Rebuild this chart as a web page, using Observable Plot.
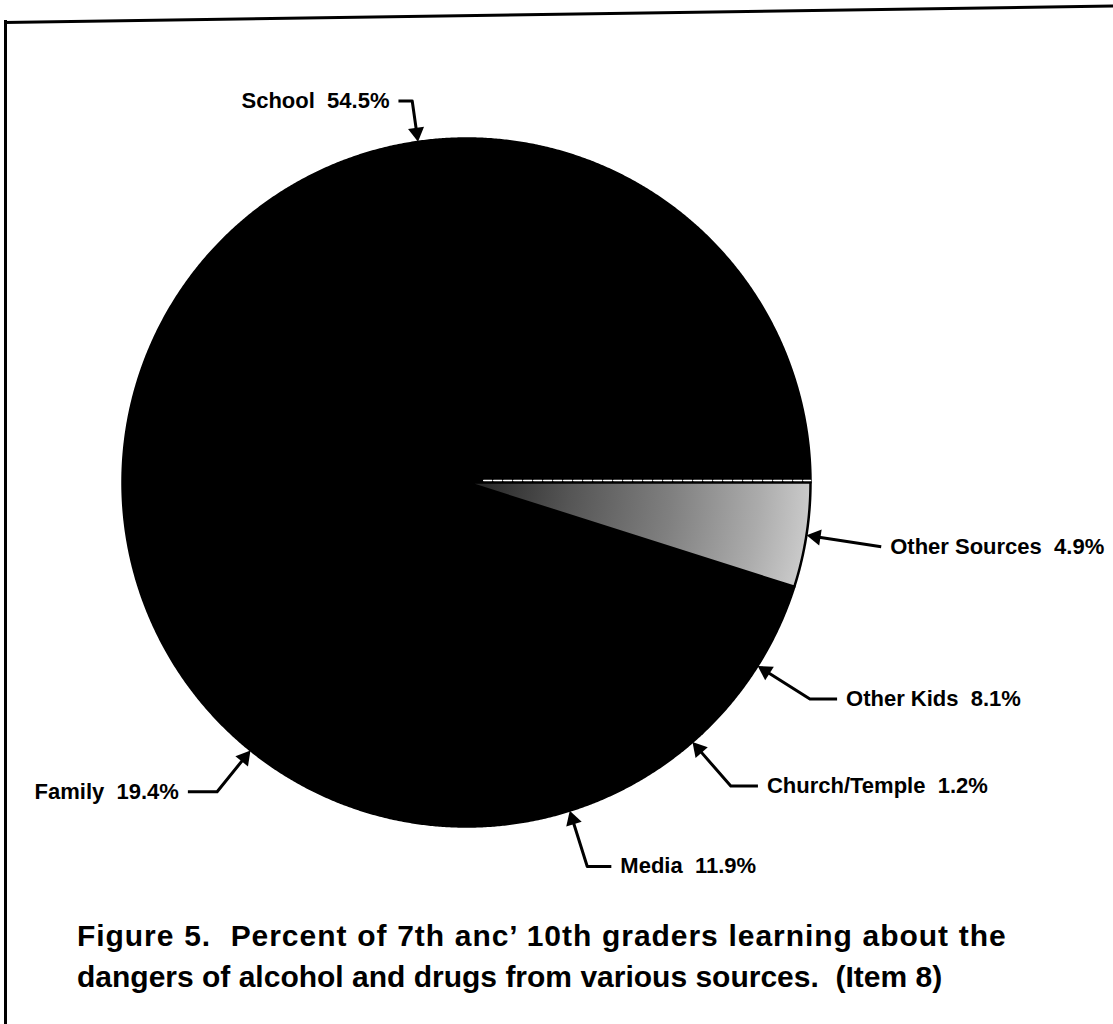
<!DOCTYPE html>
<html>
<head>
<meta charset="utf-8">
<script src="https://cdn.jsdelivr.net/npm/d3@7"></script>
<script src="https://cdn.jsdelivr.net/npm/@observablehq/plot@0.6"></script>
<style>
  html, body { margin: 0; padding: 0; background: #fff; }
  #wrap { position: relative; width: 1113px; height: 1024px; overflow: hidden; font-family: "Liberation Sans", Arial, Helvetica, sans-serif; }
  #chart { position: absolute; left: 0; top: 0; }
  .frame-left { position: absolute; left: 4px; top: 20px; width: 3px; height: 1010px; background: #000; }
  .frame-top { position: absolute; left: 4px; top: 21px; width: 1120px; height: 3px; background: #000; transform-origin: 0 50%; transform: rotate(-0.85deg); }
  #caption { position: absolute; left: 77px; top: 915px; font-size: 30px; font-weight: bold; line-height: 41px; color: #000; white-space: nowrap; }
  #caption .l1 { letter-spacing: 0.95px; word-spacing: 0.5px; }
</style>
</head>
<body>
<div id="wrap">
  <div class="frame-left"></div>
  <div class="frame-top"></div>
  <div id="chart"></div>
  <div id="caption"><span class="l1">Figure 5.&nbsp; Percent of 7th anc’ 10th graders learning about the</span><br><span class="l2">dangers of alcohol and drugs from various sources.&nbsp; (Item 8)</span></div>
</div>
<script>
// ---- data (clockwise from 3 o'clock) ----
const sources  = ["Other Sources", "Other Kids", "Church/Temple", "Media", "Family", "School"];
const percents = [4.9, 8.1, 1.2, 11.9, 19.4, 54.5];

// ---- layout (not data) ----
const W = 1113, H = 900;           // svg size
const CX = 466, CY = 482, R = 344; // pie centre / radius in px
const elbowRadius = [1.22, 1.18, 1.17, 1.17, 1.155, 1.12]; // leader elbow, in pie radii
const legLength   = [0, 0.079, 0.079, 0.07, 0.085, 0.04];  // horizontal leg, in pie radii
const shaded = "Other Sources";

const xDomain = [-CX / R, (W - CX) / R];
const yDomain = [(CY - H) / R, CY / R];

const arcs = d3.pie().sort(null)
  .startAngle(Math.PI / 2).endAngle(Math.PI / 2 + 2 * Math.PI)(percents);

const pt = (a, r) => ({u: r * Math.sin(a), v: r * Math.cos(a)});

function slicePoints(arc, i) {
  const pts = [pt(0, 0)];
  const n = Math.max(2, Math.ceil((arc.endAngle - arc.startAngle) / 0.005));
  for (let k = 0; k <= n; k++) pts.push(pt(arc.startAngle + (arc.endAngle - arc.startAngle) * k / n, 1));
  pts.push(pt(0, 0));
  return pts.map(p => ({...p, name: sources[i]}));
}

const blackPts = [], greyPts = [];
arcs.forEach((a, i) => (sources[i] === shaded ? greyPts : blackPts).push(...slicePoints(a, i)));

// top edge of the shaded slice (thin white gap)
const shadedArc = arcs[sources.indexOf(shaded)];
const gapLine = [pt(shadedArc.startAngle, 0.05), pt(shadedArc.startAngle, 1)];

const leaders = [], heads = [], labels = [];
const headBack = 9.5 / R;
arcs.forEach((a, i) => {
  const mid = (a.startAngle + a.endAngle) / 2;
  const tip = pt(mid, 1);
  const elbow = pt(mid, elbowRadius[i]);
  const side = elbow.u >= 0 ? 1 : -1;
  const legEnd = {u: elbow.u + side * legLength[i], v: elbow.v};
  let du = tip.u - elbow.u, dv = tip.v - elbow.v;
  const len = Math.hypot(du, dv); du /= len; dv /= len;
  const head = {u: tip.u - du * headBack, v: tip.v - dv * headBack, rot: Math.atan2(du, dv) * 180 / Math.PI};
  leaders.push({...legEnd, name: sources[i]}, {...elbow, name: sources[i]}, {u: head.u, v: head.v, name: sources[i]});
  heads.push(head);
  labels.push({u: legEnd.u, v: legEnd.v, side, text: `${sources[i]}\u00a0 ${percents[i]}%`});
});

const font = "'Liberation Sans', Arial, Helvetica, sans-serif";

const chart = Plot.plot({
  width: W, height: H,
  margin: 0,
  x: {domain: xDomain, axis: null},
  y: {domain: yDomain, axis: null},
  marks: [
    Plot.line(blackPts, {x: "u", y: "v", z: "name", fill: "black", stroke: "black", strokeWidth: 2.5, curve: "linear"}),
    Plot.line(greyPts, {x: "u", y: "v", z: "name", fill: "url(#stipple)", stroke: "black", strokeWidth: 2.5, curve: "linear"}),
    Plot.line(gapLine, {x: "u", y: "v", stroke: "white", strokeWidth: 1.5, dy: -2, strokeDasharray: "8,2"}),
    Plot.line(leaders, {x: "u", y: "v", z: "name", stroke: "black", strokeWidth: 3, curve: "linear", strokeLinecap: "butt"}),
    Plot.dot(heads, {x: "u", y: "v", symbol: "triangle", r: 6, fill: "black", stroke: "none", rotate: "rot"}),
    Plot.text(labels.filter(d => d.side > 0), {x: "u", y: "v", text: "text", textAnchor: "start", dx: 9, fontSize: 22, fontWeight: "bold", fontFamily: font, fill: "black"}),
    Plot.text(labels.filter(d => d.side < 0), {x: "u", y: "v", text: "text", textAnchor: "end", dx: -9, fontSize: 22, fontWeight: "bold", fontFamily: font, fill: "black"})
  ]
});

// radial stipple-like gradient for the shaded slice
const sx = chart.scale("x"), sy = chart.scale("y");
const cxp = sx.apply(0), cyp = sy.apply(0), rp = sx.apply(1) - sx.apply(0);
const defs = document.createElementNS("http://www.w3.org/2000/svg", "defs");
defs.innerHTML = `<radialGradient id="stipple" gradientUnits="userSpaceOnUse" cx="${cxp}" cy="${cyp}" r="${rp}">
  <stop offset="0.05" stop-color="#2a2a2a"/>
  <stop offset="0.3" stop-color="#555"/>
  <stop offset="0.6" stop-color="#808080"/>
  <stop offset="0.85" stop-color="#ababab"/>
  <stop offset="1" stop-color="#cacaca"/>
</radialGradient>`;
chart.insertBefore(defs, chart.firstChild);

document.getElementById("chart").appendChild(chart);
</script>
</body>
</html>
